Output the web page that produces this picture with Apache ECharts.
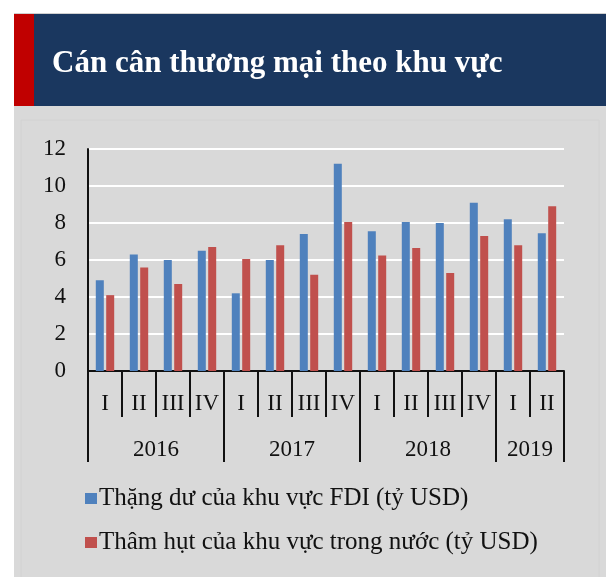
<!DOCTYPE html>
<html><head><meta charset="utf-8">
<script src="https://cdn.jsdelivr.net/npm/echarts@6/dist/echarts.min.js"></script>
<style>html,body{margin:0;padding:0;background:#fff}#c{width:606px;height:577px}</style>
</head><body><div id="c"></div>
<script>
const quarters = ['I','II','III','IV','I','II','III','IV','I','II','III','IV','I','II'];
const years = ['2016','2017','2018','2019'];
const yearSpans = [4,4,4,2];
const fdiSurplus = [4.9,6.3,6.0,6.5,4.2,6.0,7.4,11.2,7.55,8.05,8.0,9.1,8.2,7.45];
const domesticDeficit = [4.1,5.6,4.7,6.7,6.05,6.8,5.2,8.05,6.25,6.65,5.3,7.3,6.8,8.9];
const yTicks = [0,2,4,6,8,10,12];
const seriesNames = ['Thặng dư của khu vực FDI (tỷ USD)','Thâm hụt của khu vực trong nước (tỷ USD)'];
const titleText = 'Cán cân thương mại theo khu vực';

const bounds = [0]; yearSpans.forEach(s => bounds.push(bounds[bounds.length-1] + s));
const centers = yearSpans.map((s,i) => bounds[i] + s/2);
const total = bounds[bounds.length-1];
const serif = '"Liberation Serif", "DejaVu Serif", serif';

const chart = echarts.init(document.getElementById('c'), null, {renderer:'canvas'});
chart.setOption({
  backgroundColor: '#ffffff',
  animation: false,
  graphic: [
    {type:'rect', z:-10, shape:{x:14,y:13,width:592,height:1}, style:{fill:'#d0d0d0'}},
    {type:'rect', z:-10, shape:{x:14,y:14,width:592,height:92}, style:{fill:'#1a375f'}},
    {type:'rect', z:-10, shape:{x:14,y:14,width:20,height:92}, style:{fill:'#c00000'}},
    {type:'rect', z:-10, shape:{x:14,y:106,width:592,height:471}, style:{fill:'#d9d9d9'}},
    {type:'rect', z:-9, shape:{x:21,y:120,width:578,height:460}, style:{fill:'none', stroke:'#d2d2d2', lineWidth:1}}
  ],
  title: {
    text: titleText, left: 47, top: 43,
    textStyle: {color:'#ffffff', fontFamily: serif, fontWeight:'bold', fontSize: 31}
  },
  legend: {
    orient: 'vertical', left: 80, top: 481, itemGap: 19,
    itemWidth: 12, itemHeight: 11, icon: 'rect',
    textStyle: {fontFamily: serif, fontSize: 25, color:'#111', padding:[0,0,0,-3]},
    data: seriesNames
  },
  grid: {left: 88, right: 42, top: 149, bottom: 206},
  xAxis: [
    {
      type: 'category', data: quarters, position: 'bottom',
      axisLine: {show: true, lineStyle: {color:'#111', width: 2}},
      axisTick: {show: true, length: 46, lineStyle: {color:'#111', width: 2}},
      axisLabel: {interval: 0, margin: 21, fontFamily: serif, fontSize: 23, color:'#111'}
    },
    {
      type: 'value', min: 0, max: total, position: 'bottom',
      axisLine: {show: false},
      splitLine: {show: false},
      axisTick: {show: true, length: 91, customValues: bounds, lineStyle: {color:'#111', width: 2}},
      axisLabel: {show: true, margin: 67, customValues: centers,
        formatter: v => { const i = centers.indexOf(v); return i >= 0 ? years[i] : ''; },
        fontFamily: serif, fontSize: 23, color:'#111'}
    }
  ],
  yAxis: {
    type: 'value', min: 0, max: 12, interval: 2,
    axisLine: {show: true, lineStyle: {color:'#111', width: 2}},
    axisTick: {show: false},
    splitLine: {show: true, lineStyle: {color:'#ffffff', width: 2}},
    axisLabel: {margin: 22, fontFamily: serif, fontSize: 23, color:'#111',
      formatter: v => yTicks.includes(v) ? String(v) : ''}
  },
  series: [
    {name: seriesNames[0], type:'bar', data: fdiSurplus, barWidth: 8, barGap: '30%',
     itemStyle:{color:'#4f81bd'}},
    {name: seriesNames[1], type:'bar', data: domesticDeficit, barWidth: 8, barGap: '30%',
     itemStyle:{color:'#c0504d'}}
  ]
});
</script></body></html>
